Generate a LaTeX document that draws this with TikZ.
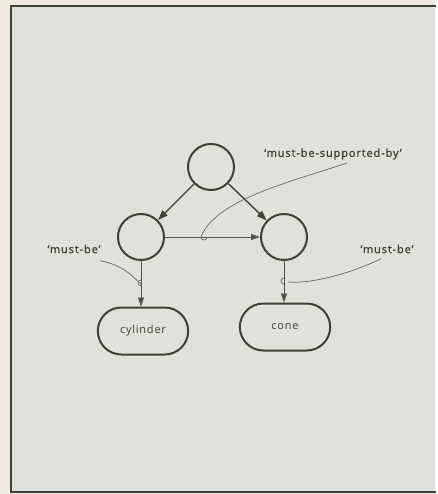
\documentclass[tikz,border=0pt]{standalone}
\usepackage{fontspec}
\setmainfont[LetterSpace=7]{Open Sans}
\newfontfamily\relfont[LetterSpace=8,FakeBold=1.3,Ligatures=TeX]{Open Sans}
\usepackage{xcolor}
\usepackage{tikz}
\usetikzlibrary{shapes.misc, arrows.meta, positioning, calc}

\definecolor{ink}{HTML}{3E4136}
\definecolor{paper}{HTML}{DFE1DA}
\definecolor{margin}{HTML}{EFEAE0}
\definecolor{lead}{HTML}{676A5F}

\begin{document}
\begin{tikzpicture}[
        x=1pt, y=-1pt,
        concept/.style={
            circle,
            draw=ink,
            line width=2pt,
            minimum size=46pt,
            inner sep=0pt
        },
        solid/.style={
            rounded rectangle,
            draw=ink,
            line width=2pt,
            minimum width=97pt,
            minimum height=47pt,
            font=\fontsize{11}{13}\selectfont,
            text=ink
        },
        relation/.style={
            font=\relfont\fontsize{11}{13}\selectfont,
            text=ink
        },
        line/.style={
            draw=ink,
            line width=1.4pt,
            -{Triangle[length=10pt,width=7pt]}
        },
        thinline/.style={
            draw=ink!90,
            line width=0.8pt,
            -{Triangle[length=9pt,width=6pt]}
        },
        leader/.style={
            draw=lead,
            line width=0.7pt
        }
    ]
        % Frame
        \fill[margin] (0,0) rectangle (435,494);
        \fill[paper] (11,6) rectangle (435,492);
        \draw[ink, line width=2.4pt] (436,6) -- (11,6) -- (11,492) -- (436,492);
        \useasboundingbox (0,0) rectangle (435,494);

        % Nodes
        \node [concept] (whole) at (211,167) {};
        \node [concept] (upper) at (141,237) {};
        \node [concept] (lower) at (284,237) {};
        \node [solid] (cylinder) at (143,331) {cylinder};
        \node [solid] (cone) at (285,327) {cone};

        \node [relation] (supp) at (333,154) {‘must-be-supported-by’};
        \node [relation] (mbleft) at (74,249) {‘must-be’};
        \node [relation] (mbright) at (387,249) {‘must-be’};

        % Edges
        \draw [line] (whole) -- (upper);
        \draw [line] (whole) -- (lower);
        \draw [thinline] (upper) -- (lower);
        \draw [thinline] (upper) -- (upper |- cylinder.north);
        \draw [thinline] (lower) -- (lower |- cone.north);

        % Hooks on the relations
        \coordinate (hookA) at (201,237);
        \coordinate (hookB) at (141,280);
        \coordinate (hookC) at (284,278);
        \draw [leader] (hookA) arc[start angle=180, end angle=0, radius=3];
        \draw [leader] (hookB) arc[start angle=270, end angle=90, radius=3];
        \draw [leader] (hookC) arc[start angle=270, end angle=90, radius=3];

        % Annotation leaders
        \draw [leader] (supp.south) ++(14,0) .. controls (290,182) and (215,200) .. (hookA);
        \draw [leader] (mbleft.south east) ++(-4,4) .. controls (124,265) and (134,278) .. ($(hookB)+(0,4)$);
        \draw [leader] (mbright.south) ++(-6,2) .. controls (350,274) and (310,284) .. ($(hookC)+(4,4)$);

    \end{tikzpicture}
\end{document}
